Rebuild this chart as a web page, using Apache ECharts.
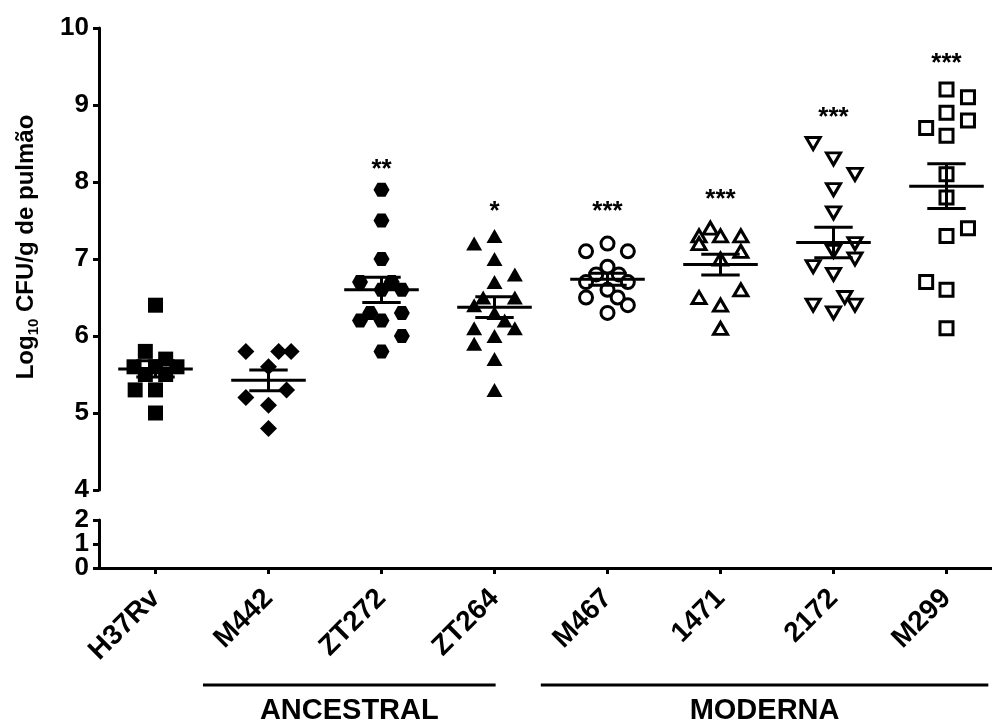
<!DOCTYPE html>
<html>
<head>
<meta charset="utf-8">
<script src="https://cdn.jsdelivr.net/npm/echarts@6/dist/echarts.min.js"></script>
<style>
html, body { margin: 0; padding: 0; background: #fff; }
#chart { width: 992px; height: 723px; }
</style>
</head>
<body>
<div id="chart"></div>
<script>
// strains on the x axis
const strains = ['H37Rv', 'M442', 'ZT272', 'ZT264', 'M467', '1471', '2172', 'M299'];

// log10 CFU per animal
const h37rv = [6.4, 5.8, 5.7, 5.6, 5.6, 5.6, 5.5, 5.5, 5.3, 5.3, 5.0];
const m442 = [5.8, 5.8, 5.8, 5.6, 5.3, 5.2, 5.1, 4.8];
const zt272 = [7.9, 7.5, 7.0, 6.7, 6.7, 6.6, 6.6, 6.3, 6.2, 6.2, 6.3, 6.0, 5.8];
const zt264 = [7.3, 7.2, 7.0, 6.8, 6.7, 6.5, 6.5, 6.4, 6.3, 6.2, 6.1, 6.1, 6.0, 5.9, 5.7, 5.3];
const m467 = [7.1, 7.2, 7.1, 6.9, 6.8, 6.8, 6.7, 6.7, 6.6, 6.5, 6.5, 6.4, 6.3];
const s1471 = [7.4, 7.3, 7.3, 7.3, 7.2, 7.1, 7.0, 6.6, 6.5, 6.4, 6.1];
const s2172 = [8.5, 8.3, 8.1, 7.9, 7.6, 7.2, 7.1, 7.0, 6.9, 6.8, 6.5, 6.4, 6.4, 6.3];
const m299 = [9.2, 9.1, 8.9, 8.8, 8.7, 8.6, 8.1, 7.8, 7.4, 7.3, 6.7, 6.6, 6.1];

// horizontal scatter of each dot, in category widths
const h37rvJitter = [0, -0.09, 0.09, -0.19, 0, 0.19, 0.09, -0.09, -0.18, 0, 0];
const m442Jitter = [-0.2, 0.09, 0.2, 0, 0.16, -0.2, 0, 0];
const zt272Jitter = [0, 0, 0, -0.19, 0.09, 0, 0.18, -0.1, -0.19, 0, 0.18, 0.18, 0];
const zt264Jitter = [0, -0.18, 0, 0.18, 0, -0.1, 0.18, -0.18, 0, 0.09, -0.18, 0.18, 0, -0.18, 0, 0];
const m467Jitter = [-0.19, 0, 0.18, 0, -0.1, 0.1, -0.19, 0.18, 0, -0.19, 0.09, 0.18, 0];
const s1471Jitter = [-0.09, -0.19, 0, 0.18, -0.19, 0.18, 0, 0.18, -0.19, 0, 0];
const s2172Jitter = [-0.18, 0, 0.19, 0, 0, 0.19, 0, 0.19, -0.18, 0, 0.1, -0.18, 0.19, 0];
const m299Jitter = [0, 0.19, 0, 0.19, -0.18, 0, 0, 0, 0.19, 0, -0.18, 0, 0];

// significance marks and the height they sit at
const stars = ['', '', '**', '*', '***', '***', '***', '***'];
const starLevel = [null, null, 8.22, 7.68, 7.68, 7.83, 8.9, 9.6];

const yTicksUpper = [4, 5, 6, 7, 8, 9, 10];
const yTicksLower = ['0', '1', '2'];

const groups = [h37rv, m442, zt272, zt264, m467, s1471, s2172, m299];
const jitters = [h37rvJitter, m442Jitter, zt272Jitter, zt264Jitter, m467Jitter, s1471Jitter, s2172Jitter, m299Jitter];

const FONT = '"Liberation Sans", Arial, sans-serif';
const hexagon = 'path://M-1,0 L-0.5,-0.866 L0.5,-0.866 L1,0 L0.5,0.866 L-0.5,0.866 Z';
const filled = { color: '#000', opacity: 1 };
const open = { color: '#fff', borderColor: '#000', borderWidth: 3, opacity: 1 };
const markers = [
    { symbol: 'rect', symbolSize: 15, itemStyle: filled },
    { symbol: 'diamond', symbolSize: 17, itemStyle: filled },
    { symbol: hexagon, symbolSize: [16, 14], itemStyle: filled },
    { symbol: 'triangle', symbolSize: [16, 14], itemStyle: filled },
    { symbol: 'circle', symbolSize: 13, itemStyle: open },
    { symbol: 'triangle', symbolSize: [14, 12], itemStyle: open },
    { symbol: 'triangle', symbolSize: [14, 12], symbolRotate: 180, itemStyle: open },
    { symbol: 'rect', symbolSize: 13, itemStyle: open }
];

function meanSem(vals) {
    const n = vals.length;
    const m = vals.reduce((a, b) => a + b, 0) / n;
    const v = vals.reduce((a, b) => a + (b - m) * (b - m), 0) / (n - 1);
    return [m, Math.sqrt(v / n)];
}

const series = [];
groups.forEach((vals, i) => {
    series.push(Object.assign({
        type: 'scatter',
        xAxisIndex: 0,
        yAxisIndex: 0,
        z: 2,
        silent: true,
        data: vals.map((v, k) => [i + jitters[i][k], v])
    }, markers[i]));
});

const stroke = { stroke: '#000', lineWidth: 3 };
series.push({
    type: 'custom',
    xAxisIndex: 0,
    yAxisIndex: 0,
    z: 5,
    silent: true,
    data: groups.map((vals, i) => [i].concat(meanSem(vals))),
    renderItem(params, api) {
        const i = api.value(0), m = api.value(1), s = api.value(2);
        const l = api.coord([i - 0.33, m]);
        const r = api.coord([i + 0.33, m]);
        const c = api.coord([i, m]);
        const hi = api.coord([i, m + s]);
        const lo = api.coord([i, m - s]);
        const bw = api.coord([i + 0.17, m])[0] - c[0];
        return {
            type: 'group',
            children: [
                { type: 'line', shape: { x1: l[0], y1: l[1], x2: r[0], y2: r[1] }, style: stroke },
                { type: 'line', shape: { x1: c[0] - bw, y1: hi[1], x2: c[0] + bw, y2: hi[1] }, style: stroke },
                { type: 'line', shape: { x1: c[0] - bw, y1: lo[1], x2: c[0] + bw, y2: lo[1] }, style: stroke },
                { type: 'line', shape: { x1: c[0], y1: hi[1], x2: c[0], y2: lo[1] }, style: stroke }
            ]
        };
    }
});

series.push({
    type: 'scatter',
    xAxisIndex: 0,
    yAxisIndex: 0,
    symbolSize: 0,
    silent: true,
    z: 6,
    itemStyle: { opacity: 1 },
    data: stars.map((s, i) => ({ value: [i, starLevel[i]], star: s })).filter(d => d.star),
    label: {
        show: true,
        position: 'inside',
        offset: [0, 5],
        formatter: p => p.data.star,
        color: '#000',
        opacity: 1,
        fontFamily: FONT,
        fontWeight: 'bold',
        fontSize: 26
    }
});

const axisLine = { show: true, onZero: false, lineStyle: { color: '#000', width: 3 } };
const tickStyle = { color: '#000', width: 3 };
const labelFont = { color: '#000', fontFamily: FONT, fontWeight: 'bold', fontSize: 26, margin: 10 };

const chart = echarts.init(document.getElementById('chart'));
chart.setOption({
    backgroundColor: '#fff',
    animation: false,
    grid: [
        { left: 99, top: 28, width: 904, height: 462, outerBoundsMode: 'none', containLabel: false },
        { left: 99, top: 520, width: 904, height: 48, outerBoundsMode: 'none', containLabel: false }
    ],
    xAxis: [
        { type: 'value', gridIndex: 0, min: -0.5, max: 7.5, show: false },
        {
            type: 'value', gridIndex: 1, min: -0.5, max: 7.5,
            splitLine: { show: false },
            axisLine: axisLine,
            axisTick: { show: true, length: 6, customValues: strains.map((s, i) => i), lineStyle: tickStyle },
            axisLabel: Object.assign({}, labelFont, {
                customValues: strains.map((s, i) => i),
                formatter: v => strains[Math.round(v)],
                rotate: 45,
                margin: 26,
                fontSize: 28,
                hideOverlap: false
            })
        }
    ],
    yAxis: [
        {
            type: 'value', gridIndex: 0,
            min: yTicksUpper[0], max: yTicksUpper[yTicksUpper.length - 1], interval: 1,
            splitLine: { show: false },
            axisLine: axisLine,
            axisTick: { show: true, length: 6, lineStyle: tickStyle },
            axisLabel: Object.assign({}, labelFont, { showMinLabel: true, showMaxLabel: true })
        },
        {
            type: 'category', gridIndex: 1, data: yTicksLower, boundaryGap: false,
            splitLine: { show: false },
            axisLine: axisLine,
            axisTick: { show: true, length: 6, interval: 0, lineStyle: tickStyle },
            axisLabel: Object.assign({}, labelFont, { interval: 0, lineHeight: 20 })
        }
    ],
    series: series
});

// group brackets under the labels
const px = v => chart.convertToPixel({ xAxisIndex: 1 }, v);
const bracketY = 685;
const brackets = [
    { from: 0.42, to: 3.01, text: 'ANCESTRAL' },
    { from: 3.41, to: 7.37, text: 'MODERNA' }
];
const graphic = [];
brackets.forEach(b => {
    const x1 = px(b.from), x2 = px(b.to);
    graphic.push({
        type: 'line', silent: true,
        shape: { x1: x1, y1: bracketY, x2: x2, y2: bracketY },
        style: { stroke: '#000', lineWidth: 3 }
    });
    graphic.push({
        type: 'text', silent: true,
        x: (x1 + x2) / 2, y: 711,
        style: {
            text: b.text, fill: '#000', font: 'bold 29px ' + FONT,
            textAlign: 'center', textVerticalAlign: 'middle'
        }
    });
});
graphic.push({
    type: 'text', silent: true,
    x: 26, y: 247, rotation: Math.PI / 2,
    style: {
        text: '{a|Log}{b|10}{a| CFU/g de pulmão}',
        fill: '#000',
        align: 'center',
        verticalAlign: 'middle',
        rich: {
            a: { fontFamily: FONT, fontWeight: 'bold', fontSize: 24, lineHeight: 30, fill: '#000' },
            b: { fontFamily: FONT, fontWeight: 'bold', fontSize: 15, lineHeight: 15, verticalAlign: 'bottom', fill: '#000' }
        }
    }
});
chart.setOption({ graphic: graphic });
</script>
</body>
</html>
